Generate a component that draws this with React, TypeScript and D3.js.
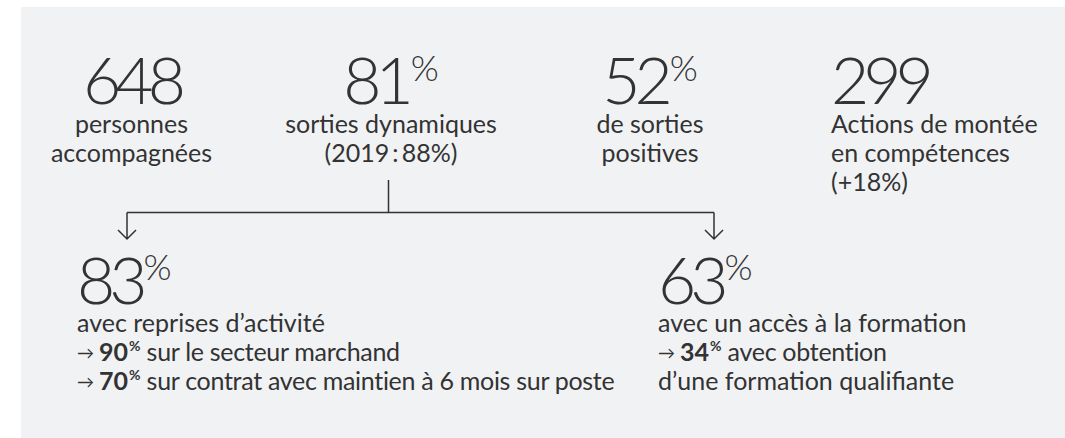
import React from "react";
import * as d3 from "d3";

// ---- data ----
const topValues = ["648", "81", "52", "299"];
const topUnits = ["", "%", "%", ""];
const topLabels = [
  ["personnes", "accompagnées"],
  ["sorties dynamiques", "(2019\u2009:\u200988%)"],
  ["de sorties", "positives"],
  ["Actions de montée", "en compétences", "(+18%)"],
];
const bottomValues = ["83", "63"];
const bottomUnits = ["%", "%"];
const bottomHeads = ["avec reprises d’activité", "avec un accès à la formation"];
const bottomArrows = [[true, true], [true, false]];
const bottomNums = [["90", "70"], ["34", ""]];
const bottomTexts = [
  ["sur le secteur marchand", "sur contrat avec maintien à 6 mois sur poste"],
  ["avec obtention", "d’une formation qualifiante"],
];

const W = 1065;
const H = 438;
const INK = "#333333";
const BG = "#f1f2f4";
const FONT = "Lato, 'Noto Sans', sans-serif";
const NUMFONT = "Lato, 'Noto Sans', sans-serif";

export default function App() {
  const topX = d3.scaleOrdinal<number, number>().domain([0, 1, 2, 3]).range([131.5, 391, 650, 831]);
  const topAnchor = d3.scaleOrdinal<number, string>().domain([0, 1, 2, 3]).range(["middle", "middle", "middle", "start"]);
  const lineY = d3.scaleLinear().domain([0, 1]).range([132.5, 161.5]);
  const botX = d3.scaleOrdinal<number, number>().domain([0, 1]).range([77, 658]);
  const botLineY = d3.scaleLinear().domain([0, 1]).range([331.5, 360.5]);
  const arrowX = d3.scaleOrdinal<number, number>().domain([0, 1]).range([127, 714]);

  const numSize = 66;
  const labelSize = 25;
  const hY = 212.5;
  const stemX = 388.5;
  const path = d3.path();
  path.moveTo(stemX, 180);
  path.lineTo(stemX, hY);
  path.moveTo(arrowX(0), hY);
  path.lineTo(arrowX(1), hY);
  [0, 1].forEach((i) => {
    const x = arrowX(i);
    path.moveTo(x, hY);
    path.lineTo(x, 239);
    path.moveTo(x - 9, 230);
    path.lineTo(x, 239);
    path.lineTo(x + 9, 230);
  });

  return (
    <svg width={W} height={H} style={{ position: "absolute", left: 0, top: 0 }} xmlns="http://www.w3.org/2000/svg">
      <rect x={21} y={7} width={W - 21} height={H - 7} fill={BG} />
      {topValues.map((v, i) => (
        <g key={"t" + i}>
          <text x={topX(i)} y={104} textAnchor={topAnchor(i)} fill={INK} fontFamily={NUMFONT} fontWeight={300} fontSize={numSize} letterSpacing={-6}>
            {v}
            {topUnits[i] ? (
              <tspan fontSize={36} dx={3} dy={-23} letterSpacing={0}>{topUnits[i]}</tspan>
            ) : null}
          </text>
          {topLabels[i].map((l, j) => (
            <text key={j} x={topX(i)} y={lineY(j)} textAnchor={topAnchor(i)} fill={INK} fontFamily={FONT} fontSize={labelSize}>
              {l}
            </text>
          ))}
        </g>
      ))}
      <path d={path.toString()} fill="none" stroke={INK} strokeWidth={1.5} />
      {bottomValues.map((v, i) => (
        <g key={"b" + i}>
          <text x={botX(i)} y={303.5} fill={INK} fontFamily={NUMFONT} fontWeight={300} fontSize={numSize} letterSpacing={-6}>
            {v}
            <tspan fontSize={36} dx={2} dy={-24} letterSpacing={0}>{bottomUnits[i]}</tspan>
          </text>
          <text x={botX(i)} y={botLineY(0)} fill={INK} fontFamily={FONT} fontSize={labelSize}>
            {bottomHeads[i]}
          </text>
          {bottomTexts[i].map((t, j) => (
            <text key={j} x={botX(i)} y={botLineY(j + 1)} fill={INK} fontFamily={FONT} fontSize={labelSize} style={{ whiteSpace: "pre" }}>
              {bottomArrows[i][j] ? <tspan fontSize={17} dy={-2}>{"→"}</tspan> : null}
              {bottomNums[i][j] ? (
                <>
                  <tspan fontWeight={700} dx={5} dy={2}>{bottomNums[i][j]}</tspan>
                  <tspan fontWeight={700} fontSize={14} dx={1} dy={-10}>{"%"}</tspan>
                  <tspan dy={10} letterSpacing={-0.3}>{" " + t}</tspan>
                </>
              ) : (
                <tspan>{t}</tspan>
              )}
            </text>
          ))}
        </g>
      ))}
    </svg>
  );
}
